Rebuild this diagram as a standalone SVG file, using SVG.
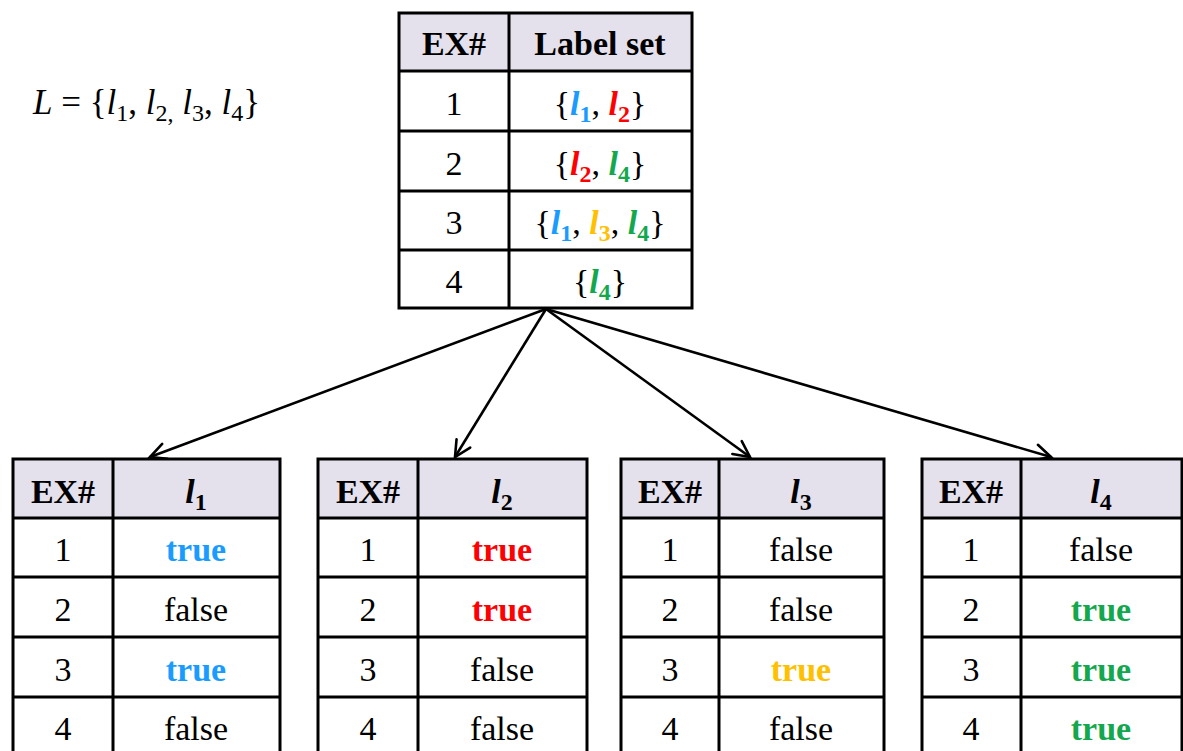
<svg xmlns="http://www.w3.org/2000/svg" width="1183" height="751" viewBox="0 0 1183 751">
<style>
.t{font-family:"Liberation Serif","Times New Roman",serif;font-size:34px;fill:#000;text-anchor:middle}
.b{font-weight:bold}
.i{font-style:italic}
.s{font-size:24px}
.hdr{fill:#e4e0ec;stroke:none}
.grid{stroke:#000;stroke-width:3;fill:none}
.c1{fill:#1a9cff}.c2{fill:#ff0000}.c3{fill:#ffc000}.c4{fill:#13a84e}
.conn{stroke:#000;stroke-width:2.6;fill:none}
</style>
<defs>
<marker id="ah" markerUnits="userSpaceOnUse" markerWidth="24" markerHeight="24" viewBox="-20 -12 24 24" refX="0" refY="0" orient="auto" overflow="visible">
<path d="M-16,-8 L0,0 L-16,8" stroke="#000" stroke-width="2.6" fill="none" stroke-linecap="round" stroke-linejoin="miter"/>
</marker>
</defs>
<rect width="1183" height="751" fill="#fff"/>

<g id="formula">
<text class="t i" x="33" y="114" style="text-anchor:start;font-size:35px">L<tspan font-style="normal"> = {</tspan>l<tspan class="s" font-style="normal" dy="7">1</tspan><tspan font-style="normal" dy="-7">, </tspan>l<tspan class="s" font-style="normal" dy="7">2,</tspan><tspan dy="-7"> l</tspan><tspan class="s" font-style="normal" dy="7">3</tspan><tspan font-style="normal" dy="-7">, </tspan>l<tspan class="s" font-style="normal" dy="7">4</tspan><tspan font-style="normal" dy="-7">}</tspan></text>
</g>

<g id="label-set-table">
<rect class="hdr" x="399" y="13" width="293" height="58"/>
<rect class="grid" x="399" y="13" width="293" height="295"/>
<line class="grid" x1="509" y1="13" x2="509" y2="308"/>
<line class="grid" x1="399" y1="71" x2="692" y2="71"/>
<line class="grid" x1="399" y1="131" x2="692" y2="131"/>
<line class="grid" x1="399" y1="191" x2="692" y2="191"/>
<line class="grid" x1="399" y1="250" x2="692" y2="250"/>
<text class="t b" x="454" y="55">EX#</text>
<text class="t b" x="600" y="55">Label set</text>
<text class="t" x="454" y="115">1</text>
<text class="t" x="454" y="175">2</text>
<text class="t" x="454" y="234">3</text>
<text class="t" x="454" y="293">4</text>
<text class="t" x="600" y="115">{<tspan class="b i c1">l</tspan><tspan class="b s c1" dy="7">1</tspan><tspan dy="-7">, </tspan><tspan class="b i c2">l</tspan><tspan class="b s c2" dy="7">2</tspan><tspan dy="-7">}</tspan></text>
<text class="t" x="600" y="175">{<tspan class="b i c2">l</tspan><tspan class="b s c2" dy="7">2</tspan><tspan dy="-7">, </tspan><tspan class="b i c4">l</tspan><tspan class="b s c4" dy="7">4</tspan><tspan dy="-7">}</tspan></text>
<text class="t" x="600" y="234">{<tspan class="b i c1">l</tspan><tspan class="b s c1" dy="7">1</tspan><tspan dy="-7">, </tspan><tspan class="b i c3">l</tspan><tspan class="b s c3" dy="7">3</tspan><tspan dy="-7">, </tspan><tspan class="b i c4">l</tspan><tspan class="b s c4" dy="7">4</tspan><tspan dy="-7">}</tspan></text>
<text class="t" x="600" y="293">{<tspan class="b i c4">l</tspan><tspan class="b s c4" dy="7">4</tspan><tspan dy="-7">}</tspan></text>
</g>

<g id="connectors">
<line class="conn" x1="546" y1="309" x2="150" y2="457" marker-end="url(#ah)"/>
<line class="conn" x1="546" y1="309" x2="455" y2="457" marker-end="url(#ah)"/>
<line class="conn" x1="546" y1="309" x2="750" y2="457" marker-end="url(#ah)"/>
<line class="conn" x1="546" y1="309" x2="1051" y2="457" marker-end="url(#ah)"/>
</g>

<g id="table-l1">
<rect class="hdr" x="13" y="459" width="267" height="59"/>
<rect class="grid" x="13" y="459" width="267" height="310"/>
<line class="grid" x1="113" y1="459" x2="113" y2="769"/>
<line class="grid" x1="13" y1="518" x2="280" y2="518"/>
<line class="grid" x1="13" y1="577" x2="280" y2="577"/>
<line class="grid" x1="13" y1="637" x2="280" y2="637"/>
<line class="grid" x1="13" y1="697" x2="280" y2="697"/>
<text class="t b" x="63" y="503">EX#</text>
<text class="t" x="196" y="503"><tspan class="b i">l</tspan><tspan class="b s" dy="7">1</tspan></text>
<text class="t" x="63" y="561">1</text><text class="t" x="63" y="621">2</text><text class="t" x="63" y="681">3</text><text class="t" x="63" y="740">4</text>
<text class="t b c1" x="196" y="561">true</text>
<text class="t" x="196" y="621">false</text>
<text class="t b c1" x="196" y="681">true</text>
<text class="t" x="196" y="740">false</text>
</g>

<g id="table-l2">
<rect class="hdr" x="318" y="459" width="269" height="59"/>
<rect class="grid" x="318" y="459" width="269" height="310"/>
<line class="grid" x1="418" y1="459" x2="418" y2="769"/>
<line class="grid" x1="318" y1="518" x2="587" y2="518"/>
<line class="grid" x1="318" y1="577" x2="587" y2="577"/>
<line class="grid" x1="318" y1="637" x2="587" y2="637"/>
<line class="grid" x1="318" y1="697" x2="587" y2="697"/>
<text class="t b" x="368" y="503">EX#</text>
<text class="t" x="502" y="503"><tspan class="b i">l</tspan><tspan class="b s" dy="7">2</tspan></text>
<text class="t" x="368" y="561">1</text><text class="t" x="368" y="621">2</text><text class="t" x="368" y="681">3</text><text class="t" x="368" y="740">4</text>
<text class="t b c2" x="502" y="561">true</text>
<text class="t b c2" x="502" y="621">true</text>
<text class="t" x="502" y="681">false</text>
<text class="t" x="502" y="740">false</text>
</g>

<g id="table-l3">
<rect class="hdr" x="621" y="459" width="263" height="59"/>
<rect class="grid" x="621" y="459" width="263" height="310"/>
<line class="grid" x1="719" y1="459" x2="719" y2="769"/>
<line class="grid" x1="621" y1="518" x2="884" y2="518"/>
<line class="grid" x1="621" y1="577" x2="884" y2="577"/>
<line class="grid" x1="621" y1="637" x2="884" y2="637"/>
<line class="grid" x1="621" y1="697" x2="884" y2="697"/>
<text class="t b" x="670" y="503">EX#</text>
<text class="t" x="801" y="503"><tspan class="b i">l</tspan><tspan class="b s" dy="7">3</tspan></text>
<text class="t" x="670" y="561">1</text><text class="t" x="670" y="621">2</text><text class="t" x="670" y="681">3</text><text class="t" x="670" y="740">4</text>
<text class="t" x="801" y="561">false</text>
<text class="t" x="801" y="621">false</text>
<text class="t b c3" x="801" y="681">true</text>
<text class="t" x="801" y="740">false</text>
</g>

<g id="table-l4">
<rect class="hdr" x="922" y="459" width="260" height="59"/>
<rect class="grid" x="922" y="459" width="260" height="310"/>
<line class="grid" x1="1021" y1="459" x2="1021" y2="769"/>
<line class="grid" x1="922" y1="518" x2="1182" y2="518"/>
<line class="grid" x1="922" y1="577" x2="1182" y2="577"/>
<line class="grid" x1="922" y1="637" x2="1182" y2="637"/>
<line class="grid" x1="922" y1="697" x2="1182" y2="697"/>
<text class="t b" x="971" y="503">EX#</text>
<text class="t" x="1101" y="503"><tspan class="b i">l</tspan><tspan class="b s" dy="7">4</tspan></text>
<text class="t" x="971" y="561">1</text><text class="t" x="971" y="621">2</text><text class="t" x="971" y="681">3</text><text class="t" x="971" y="740">4</text>
<text class="t" x="1101" y="561">false</text>
<text class="t b c4" x="1101" y="621">true</text>
<text class="t b c4" x="1101" y="681">true</text>
<text class="t b c4" x="1101" y="740">true</text>
</g>
</svg>
